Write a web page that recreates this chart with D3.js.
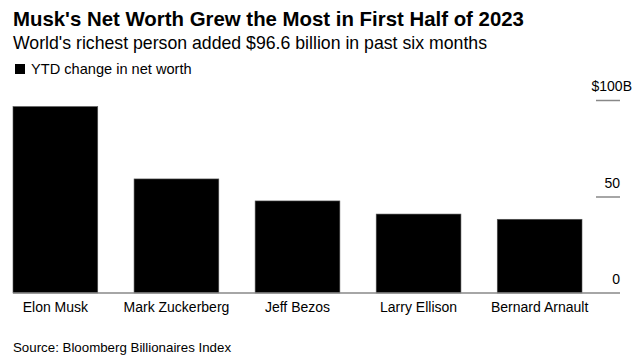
<!DOCTYPE html>
<html>
<head>
<meta charset="utf-8">
<script src="https://cdn.jsdelivr.net/npm/d3@7"></script>
<style>
  body { margin: 0; background: #fff; }
  svg { display: block; font-family: "Liberation Sans", Arial, sans-serif; }
</style>
</head>
<body>
<div id="chart"></div>
<script>
// data
var names = ["Elon Musk", "Mark Zuckerberg", "Jeff Bezos", "Larry Ellison", "Bernard Arnault"];
var ytdChange = [96.6, 59.1, 47.7, 40.9, 38.2];
var yTicks = [0, 50, 100];
var yTickLabels = ["0", "50", "$100B"];

var width = 640, height = 364;

var svg = d3.select("#chart").append("svg")
    .attr("width", width)
    .attr("height", height);

// title block
svg.append("text")
    .attr("x", 13).attr("y", 26)
    .style("font-size", "20.4px").style("font-weight", "bold")
    .text("Musk's Net Worth Grew the Most in First Half of 2023");

svg.append("text")
    .attr("x", 13).attr("y", 49)
    .style("font-size", "17.7px")
    .text("World's richest person added $96.6 billion in past six months");

// legend
svg.append("rect")
    .attr("x", 15).attr("y", 64)
    .attr("width", 10).attr("height", 10)
    .attr("fill", "#000");

svg.append("text")
    .attr("x", 31).attr("y", 74)
    .style("font-size", "14.6px")
    .text("YTD change in net worth");

// scales
var x = d3.scaleBand()
    .domain(names)
    .range([13, 582])
    .paddingInner(0.3)
    .paddingOuter(0);

var y = d3.scaleLinear()
    .domain([0, 100])
    .range([293, 100]);

// bars
svg.selectAll(".bar")
    .data(names)
  .enter().append("rect")
    .attr("class", "bar")
    .attr("x", function(d) { return x(d); })
    .attr("y", function(d, i) { return y(ytdChange[i]); })
    .attr("width", x.bandwidth())
    .attr("height", function(d, i) { return y(0) - y(ytdChange[i]); })
    .attr("fill", "#000")
    .attr("stroke", "#555")
    .attr("stroke-width", 0.6);

// baseline
svg.append("line")
    .attr("x1", 13).attr("x2", 620)
    .attr("y1", y(0)).attr("y2", y(0))
    .attr("stroke", "#888")
    .attr("stroke-width", 1.5);

// y axis on the right: short ticks with labels above them
var yAxis = d3.axisRight(y)
    .tickValues(yTicks)
    .tickSize(0)
    .tickFormat(function(d, i) { return yTickLabels[i]; });

var gy = svg.append("g")
    .attr("transform", "translate(620,0)")
    .call(yAxis);

gy.select(".domain").remove();

gy.selectAll(".tick line")
    .filter(function(d) { return d !== 0; })
    .attr("x1", -24).attr("x2", 0)
    .attr("stroke", "#888")
    .attr("stroke-width", 1.5);

// the unit label hangs past the tick end
gy.selectAll(".tick text")
    .attr("x", function(d) { return d === 100 ? 12 : 0; })
    .attr("dy", null)
    .attr("y", -9.5)
    .attr("text-anchor", "end")
    .attr("fill", "#000")
    .style("font-size", "14px")
    .style("font-family", "'Liberation Sans', Arial, sans-serif");

// category labels
var gx = svg.append("g")
    .attr("transform", "translate(0," + y(0) + ")")
    .call(d3.axisBottom(x).tickSize(0).tickPadding(0));

gx.select(".domain").remove();

gx.selectAll(".tick text")
    .attr("dy", null)
    .attr("y", 19)
    .attr("fill", "#000")
    .style("font-size", "14px")
    .style("font-family", "'Liberation Sans', Arial, sans-serif");

// source
svg.append("text")
    .attr("x", 13).attr("y", 352)
    .style("font-size", "13.3px")
    .text("Source: Bloomberg Billionaires Index");
</script>
</body>
</html>
